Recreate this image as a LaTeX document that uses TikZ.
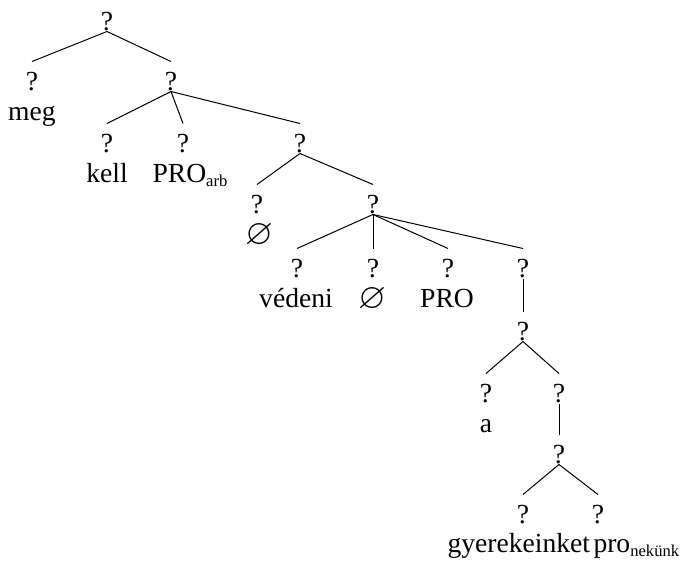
\documentclass[tikz,border=0pt]{standalone}
\usepackage{fontspec}
\usepackage{amssymb}
\setmainfont{Liberation Serif}
\usepackage{tikz}
\usetikzlibrary{positioning}

\newcommand{\lowsub}[1]{\raisebox{-2pt}{\fontsize{8.3}{9}\selectfont #1}}
\newcommand{\nullcat}{\scalebox{1.3}{$\varnothing$}}

\begin{document}
\begin{tikzpicture}[x=0.5pt, y=-0.5pt, line width=0.5pt,
  every node/.style={inner sep=0pt, anchor=base, font=\fontsize{13.8}{16}\selectfont},
  cat/.style={text height=14pt, text depth=0.5pt}]

% Tree for the sentence, with the unlabelled category nodes as question marks.

\useasboundingbox (0,0) rectangle (681,563);

\node[cat] (root) at (107,30) {?};
\node[cat] (meg) at (32,90) {?};
\node[cat] (vp1) at (171,90) {?};

\node[cat] (kell) at (107,152) {?};
\node[cat] (arb) at (183,152) {?};
\node[cat] (vp2) at (300,152) {?};

\node[cat] (nul1) at (257,213) {?};
\node[cat] (vp3) at (373,213) {?};

\node[cat] (ved) at (297,277) {?};
\node[cat] (nul2) at (373,277) {?};
\node[cat] (pro) at (448,277) {?};
\node[cat] (dp1) at (523,277) {?};

\node[cat] (dp2) at (523,340) {?};
\node[cat] (det) at (486,402) {?};
\node[cat] (np1) at (559,402) {?};
\node[cat] (np2) at (559,463) {?};
\node[cat] (gyer) at (523,523) {?};
\node[cat] (poss) at (598,523) {?};

% the words
\node (w-meg) at (32,120) {meg};
\node (w-kell) at (107,182) {kell};
\node[anchor=base west] (w-arb) at (152,182) {PRO\lowsub{arb}};
\node (w-nul1) at (259,244) {\nullcat};
\node (w-ved) at (296,307) {védeni};
\node (w-nul2) at (372,308) {\nullcat};
\node (w-pro) at (447,307) {PRO};
\node (w-a) at (486,432) {a};
\node[anchor=base west] (w-gyer) at (447,552) {gyerekeinket};
\node[anchor=base west] (w-poss) at (593,552) {pro\lowsub{nekünk}};

\draw (root.south) -- (meg.north);
\draw (root.south) -- (vp1.north);

\draw (vp1.south) -- (kell.north);
\draw (vp1.south) -- (arb.north);
\draw (vp1.south) -- (vp2.north);

\draw (vp2.south) -- (nul1.north);
\draw (vp2.south) -- (vp3.north);

\draw (vp3.south) -- (ved.north);
\draw (vp3.south) -- (nul2.north);
\draw (vp3.south) -- (pro.north);
\draw (vp3.south) -- (dp1.north);

\draw (dp1.south) -- (dp2.north);
\draw (dp2.south) -- (det.north);
\draw (dp2.south) -- (np1.north);
\draw (np1.south) -- (np2.north);
\draw (np2.south) -- (gyer.north);
\draw (np2.south) -- (poss.north);

\end{tikzpicture}
\end{document}
